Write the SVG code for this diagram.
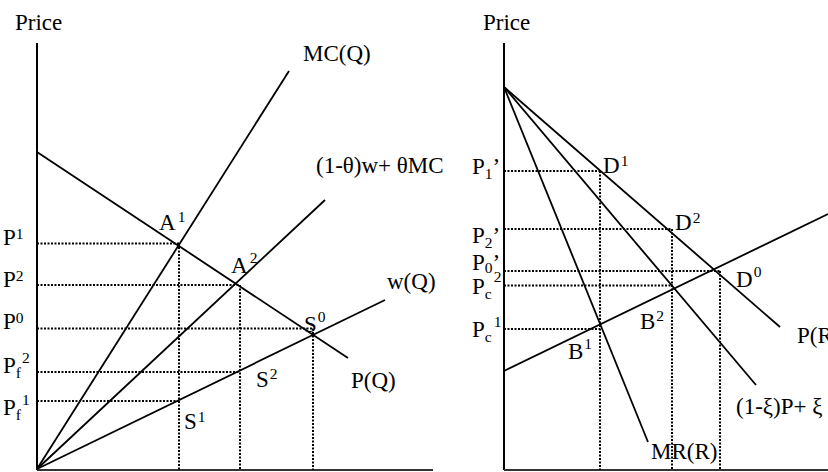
<svg xmlns="http://www.w3.org/2000/svg" width="828" height="472" viewBox="0 0 828 472">
<style>
.ln{stroke:#000;stroke-width:1.8;fill:none}
.ax{stroke:#000;stroke-width:2;fill:none}
.axg{stroke:#333;stroke-width:2;fill:none}
.dt{stroke:#000;stroke-width:2;fill:none;stroke-dasharray:2 1.5}
.t{font-family:"Liberation Serif","Times New Roman",serif;font-size:23px;fill:#000}
.s{font-size:15.5px}
</style>
<rect width="828" height="472" fill="#fff"/>
<g id="left-panel">
  <g id="left-axes">
    <path class="ax" d="M37 43V470"/>
    <path class="axg" d="M37 470H433"/>
  </g>
  <g id="left-guides">
    <path class="dt" d="M37 243.5H179M179 243.5V470"/>
    <path class="dt" d="M37 285H240M240 285V470"/>
    <path class="dt" d="M37 328.5H313M313 328.5V470"/>
    <path class="dt" d="M37 372H240"/>
    <path class="dt" d="M37 401H179"/>
  </g>
  <g id="left-curves">
    <path class="ln" d="M37 469L289 71"/>
    <path class="ln" d="M37 469L325 200"/>
    <path class="ln" d="M37 469L385 300"/>
    <path class="ln" d="M37 152L348 358"/>
  </g>
  <g id="left-labels">
    <text class="t" x="15" y="30">Price</text>
    <text class="t" x="303" y="61">MC(Q)</text>
    <text class="t" x="316" y="173">(1-θ)w+ θMC</text>
    <text class="t" x="387" y="289">w(Q)</text>
    <text class="t" x="351" y="388">P(Q)</text>
    <text class="t" x="159" y="230">A<tspan class="s" dx="2" dy="-8">1</tspan></text>
    <text class="t" x="231" y="273">A<tspan class="s" dx="2" dy="-10">2</tspan></text>
    <text class="t" x="304" y="332">S<tspan class="s" dx="1" dy="-10">0</tspan></text>
    <text class="t" x="256" y="387">S<tspan class="s" dx="1" dy="-8">2</tspan></text>
    <text class="t" x="184" y="429">S<tspan class="s" dx="1" dy="-7">1</tspan></text>
    <text class="t" x="3" y="245">P<tspan class="s" dy="-6">1</tspan></text>
    <text class="t" x="3" y="287">P<tspan class="s" dy="-6">2</tspan></text>
    <text class="t" x="3" y="329">P<tspan class="s" dy="-6">0</tspan></text>
    <text class="t" x="3" y="373">P<tspan class="s" dy="5">f</tspan><tspan class="s" dx="1" dy="-15">2</tspan></text>
    <text class="t" x="3" y="415">P<tspan class="s" dy="5">f</tspan><tspan class="s" dx="1" dy="-15">1</tspan></text>
  </g>
</g>
<g id="right-panel">
  <g id="right-axes">
    <path class="ax" d="M504 43V470"/>
    <path class="axg" d="M504 470H828"/>
  </g>
  <g id="right-guides">
    <path class="dt" d="M504 171H600M600 171V470"/>
    <path class="dt" d="M504 229H672M672 229V470"/>
    <path class="dt" d="M504 271H720M720 271V470"/>
    <path class="dt" d="M504 285.5H673"/>
    <path class="dt" d="M504 329H600"/>
  </g>
  <g id="right-curves">
    <path class="ln" d="M504 87L780 327"/>
    <path class="ln" d="M504 87L756 385"/>
    <path class="ln" d="M504 87L648 442"/>
    <path class="ln" d="M504 371L828 214"/>
  </g>
  <g id="right-labels">
    <text class="t" x="483" y="30">Price</text>
    <text class="t" x="472" y="174">P<tspan class="s" dy="5">1</tspan><tspan dy="-5">’</tspan></text>
    <text class="t" x="472" y="243">P<tspan class="s" dy="5">2</tspan><tspan dy="-5">’</tspan></text>
    <text class="t" x="472" y="270">P<tspan class="s" dy="3">0</tspan><tspan dy="-3">’</tspan></text>
    <text class="t" x="472" y="294">P<tspan class="s" dy="5">c</tspan><tspan class="s" dx="2" dy="-17">2</tspan></text>
    <text class="t" x="472" y="337">P<tspan class="s" dy="5">c</tspan><tspan class="s" dx="2" dy="-15">1</tspan></text>
    <text class="t" x="603" y="173">D<tspan class="s" dx="1" dy="-7">1</tspan></text>
    <text class="t" x="675" y="230">D<tspan class="s" dx="1" dy="-7">2</tspan></text>
    <text class="t" x="736" y="287">D<tspan class="s" dx="1" dy="-10">0</tspan></text>
    <text class="t" x="568" y="359">B<tspan class="s" dx="1" dy="-10">1</tspan></text>
    <text class="t" x="640" y="329">B<tspan class="s" dx="1" dy="-8">2</tspan></text>
    <text class="t" x="797" y="343">P(R</text>
    <text class="t" x="736" y="414">(1-ξ)P+ ξ</text>
    <text class="t" x="651" y="459">MR(R)</text>
  </g>
</g>
</svg>
